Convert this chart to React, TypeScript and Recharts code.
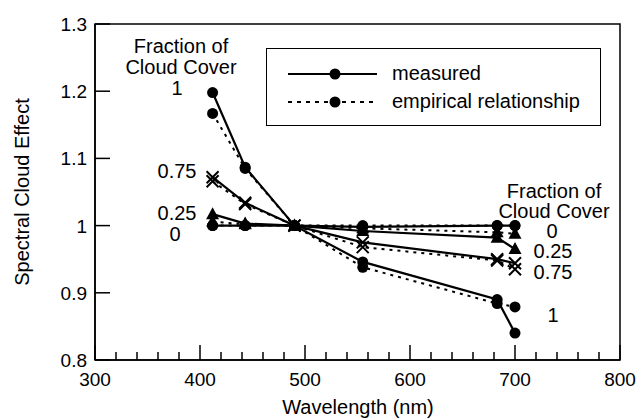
import React from "react";
import { LineChart, Line, XAxis, YAxis, ReferenceArea, Legend } from "recharts";

// wavelengths (nm) shared by every curve
const wavelengths = [412, 443, 490, 555, 683, 700];

// measured spectral cloud effect, by fraction of cloud cover
const measured0 = [1.0, 1.0, 1.0, 0.998, 1.0, 1.0];
const measured025 = [1.017, 1.003, 1.0, 0.992, 0.982, 0.965];
const measured075 = [1.072, 1.034, 1.0, 0.975, 0.95, 0.944];
const measured1 = [1.198, 1.087, 1.0, 0.946, 0.89, 0.84];

// empirical relationship
const empirical0 = [1.0, 1.0, 1.0, 1.0, 1.0, 1.0];
const empirical025 = [1.006, 1.002, 1.0, 0.996, 0.99, 0.988];
const empirical075 = [1.066, 1.032, 1.0, 0.968, 0.948, 0.935];
const empirical1 = [1.167, 1.085, 1.0, 0.938, 0.884, 0.879];

const xTicks = [
  300, 320, 340, 360, 380, 400, 420, 440, 460, 480, 500, 520, 540, 560, 580,
  600, 620, 640, 660, 680, 700, 720, 740, 760, 780, 800,
];
const yTicks = [0.8, 0.9, 1, 1.1, 1.2, 1.3];

const data = wavelengths.map((wl, i) => ({
  wl,
  m0: measured0[i],
  m025: measured025[i],
  m075: measured075[i],
  m1: measured1[i],
  e0: empirical0[i],
  e025: empirical025[i],
  e075: empirical075[i],
  e1: empirical1[i],
}));

const FONT = '"Liberation Sans", Arial, Helvetica, sans-serif';

function makeDot(shape: "circle" | "triangle" | "cross") {
  return (props: any) => {
    const { cx, cy, index } = props;
    const k = `${shape}-${index}-${props.dataKey}`;
    if (cx == null || cy == null) return <g key={k} />;
    if (shape === "circle")
      return <circle key={k} cx={cx} cy={cy} r={5.5} fill="#000" stroke="none" />;
    if (shape === "triangle")
      return (
        <path
          key={k}
          d={`M${cx},${cy - 7}L${cx + 6.5},${cy + 5}L${cx - 6.5},${cy + 5}Z`}
          fill="#000"
          stroke="none"
        />
      );
    return (
      <path
        key={k}
        d={`M${cx - 6},${cy - 6}L${cx + 6},${cy + 6}M${cx + 6},${cy - 6}L${cx - 6},${cy + 6}`}
        stroke="#000"
        strokeWidth={2}
        fill="none"
      />
    );
  };
}

const renderXTick = (props: any) => {
  const { x, y, payload, index } = props;
  const v = payload.value;
  const major = v % 100 === 0;
  return (
    <g key={`xt-${index}`}>
      <line x1={x} x2={x} y1={y} y2={y - (major ? 15 : 8)} stroke="#000" strokeWidth={1.5} />
      {major && (
        <text x={x} y={y + 26} textAnchor="middle" fontSize={19} fontFamily={FONT} fill="#000">
          {v}
        </text>
      )}
    </g>
  );
};

const renderYTick = (props: any) => {
  const { x, y, payload, index } = props;
  return (
    <g key={`yt-${index}`}>
      <line x1={x} x2={x + 15} y1={y} y2={y} stroke="#000" strokeWidth={1.5} />
      <text x={x - 8} y={y + 7} textAnchor="end" fontSize={19} fontFamily={FONT} fill="#000">
        {payload.value}
      </text>
    </g>
  );
};

const LegendBox = () => (
  <div
    style={{
      width: 333,
      height: 76,
      border: "1.5px solid #000",
      background: "#fff",
      fontFamily: FONT,
      fontSize: 20,
      position: "relative",
    }}
  >
    <svg width={120} height={76} style={{ position: "absolute", left: 0, top: 0 }}>
      <line x1={21} x2={110} y1={25} y2={25} stroke="#000" strokeWidth={2} />
      <circle cx={68} cy={25} r={5.5} fill="#000" />
      <line x1={21} x2={110} y1={53} y2={53} stroke="#000" strokeWidth={2} strokeDasharray="4 5" />
      <circle cx={68} cy={53} r={5.5} fill="#000" />
    </svg>
    <div style={{ position: "absolute", left: 125, top: 12, lineHeight: "24px" }}>measured</div>
    <div style={{ position: "absolute", left: 125, top: 40, lineHeight: "24px" }}>
      empirical relationship
    </div>
  </div>
);

const Note = ({ x, y, children }: { x: number; y: number; children: React.ReactNode }) => (
  <div
    style={{
      position: "absolute",
      left: x,
      top: y,
      transform: "translate(-50%, -50%)",
      whiteSpace: "nowrap",
      fontFamily: FONT,
      fontSize: 20,
      lineHeight: "20px",
      color: "#000",
    }}
  >
    {children}
  </div>
);

export default function App() {
  return (
    <div
      style={{
        position: "absolute",
        left: 0,
        top: 0,
        width: 640,
        height: 419,
        background: "#fff",
        fontFamily: FONT,
      }}
    >
      <LineChart
        width={640}
        height={419}
        data={data}
        margin={{ top: 24, right: 20, bottom: 29, left: 35 }}
      >
        <XAxis
          dataKey="wl"
          type="number"
          domain={[300, 800]}
          ticks={xTicks}
          interval={0}
          height={30}
          tickSize={0}
          tickMargin={0}
          tickLine={false}
          axisLine={{ stroke: "#000", strokeWidth: 1.5 }}
          tick={renderXTick}
        />
        <YAxis
          type="number"
          domain={[0.8, 1.3]}
          ticks={yTicks}
          interval={0}
          width={60}
          tickSize={0}
          tickMargin={0}
          tickLine={false}
          axisLine={{ stroke: "#000", strokeWidth: 1.5 }}
          tick={renderYTick}
        />
        <ReferenceArea
          x1={300}
          x2={800}
          y1={0.8}
          y2={1.3}
          fill="none"
          stroke="#000"
          strokeWidth={1.5}
          ifOverflow="visible"
        />
        <Legend
          layout="vertical"
          align="center"
          verticalAlign="middle"
          wrapperStyle={{ left: 266, top: 48, width: 336, height: 78 }}
          content={() => <LegendBox />}
        />

        <Line dataKey="e0" stroke="#000" strokeWidth={2} strokeDasharray="3 5" dot={makeDot("circle")} isAnimationActive={false} />
        <Line dataKey="e025" stroke="#000" strokeWidth={2} strokeDasharray="3 5" dot={makeDot("triangle")} isAnimationActive={false} />
        <Line dataKey="e075" stroke="#000" strokeWidth={2} strokeDasharray="3 5" dot={makeDot("cross")} isAnimationActive={false} />
        <Line dataKey="e1" stroke="#000" strokeWidth={2} strokeDasharray="3 5" dot={makeDot("circle")} isAnimationActive={false} />

        <Line dataKey="m0" stroke="#000" strokeWidth={2.2} dot={makeDot("circle")} isAnimationActive={false} />
        <Line dataKey="m025" stroke="#000" strokeWidth={2.2} dot={makeDot("triangle")} isAnimationActive={false} />
        <Line dataKey="m075" stroke="#000" strokeWidth={2.2} dot={makeDot("cross")} isAnimationActive={false} />
        <Line dataKey="m1" stroke="#000" strokeWidth={2.2} dot={makeDot("circle")} isAnimationActive={false} />
      </LineChart>

      {/* axis titles */}
      <Note x={358} y={407}>Wavelength (nm)</Note>
      <div
        style={{
          position: "absolute",
          left: 22,
          top: 192,
          transform: "translate(-50%, -50%) rotate(-90deg)",
          whiteSpace: "nowrap",
          fontFamily: FONT,
          fontSize: 20,
          lineHeight: "20px",
        }}
      >
        Spectral Cloud Effect
      </div>

      {/* left annotations */}
      <Note x={181} y={46}>Fraction of</Note>
      <Note x={181} y={67}>Cloud Cover</Note>
      <Note x={177} y={88}>1</Note>
      <Note x={177} y={171}>0.75</Note>
      <Note x={177} y={213}>0.25</Note>
      <Note x={175} y={234}>0</Note>

      {/* right annotations */}
      <Note x={554} y={191}>Fraction of</Note>
      <Note x={554} y={211}>Cloud Cover</Note>
      <Note x={552} y={231}>0</Note>
      <Note x={553} y={251}>0.25</Note>
      <Note x={553} y={272}>0.75</Note>
      <Note x={553} y={315}>1</Note>
    </div>
  );
}
